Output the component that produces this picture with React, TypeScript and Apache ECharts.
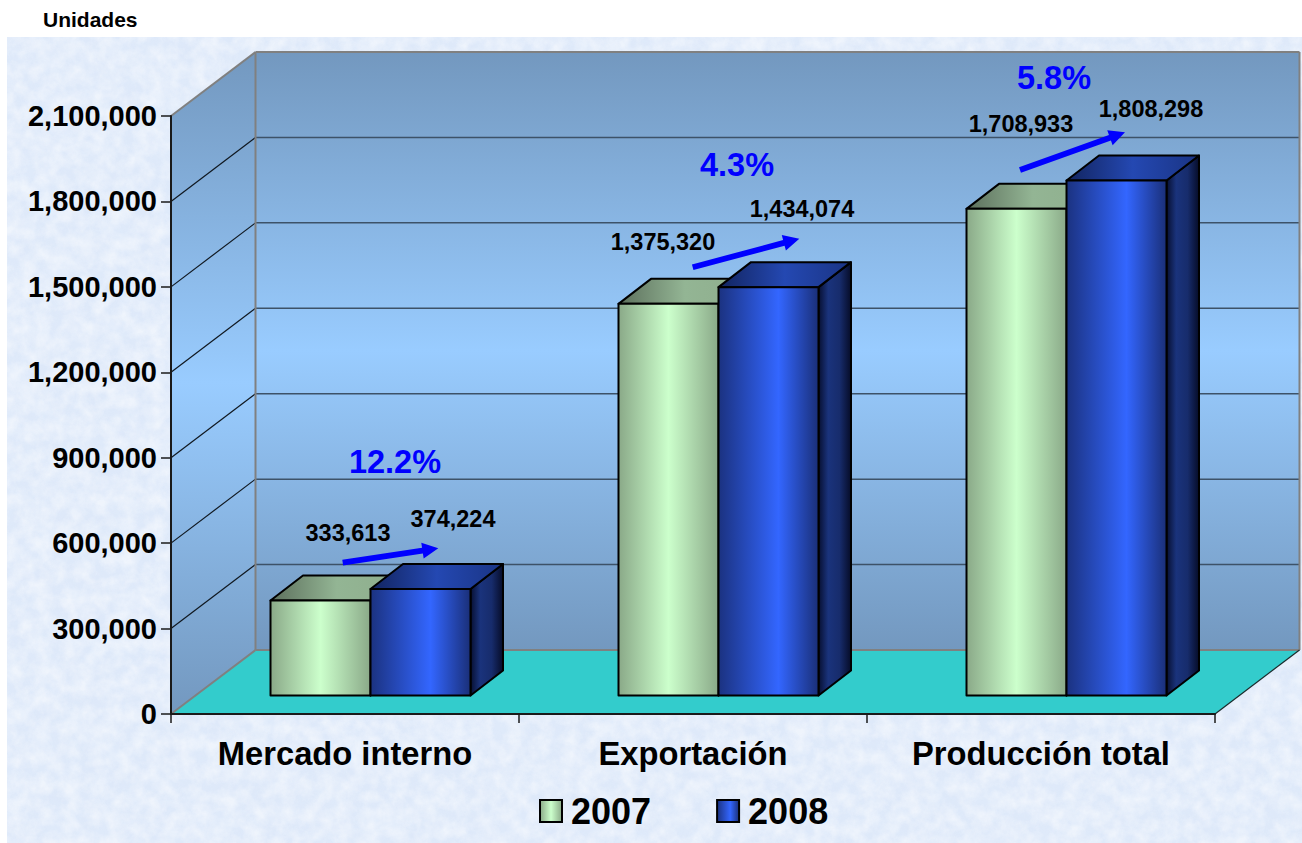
import React, { useEffect, useRef } from "react";
import * as echarts from "echarts";

const categories = ["Mercado interno", "Exportación", "Producción total"];
const seriesNames = ["2007", "2008"];
const values2007 = [333613, 1375320, 1708933];
const values2008 = [374224, 1434074, 1808298];
const growthLabels = ["12.2%", "4.3%", "5.8%"];
const yTicks = [0, 300000, 600000, 900000, 1200000, 1500000, 1800000, 2100000];
const yMax = 2100000;
const yInterval = 300000;

const FONT = '"Liberation Sans", Arial, sans-serif';
const WALL_DX = 84.5;
const WALL_DY = -64;
const BAR_OFF_X = 25.5;
const BAR_OFF_Y = -18.5;
const BAR_W = 100;
const BAR_DX = 32.5;
const BAR_DY = -25;

// label offsets, relative to the middle of a bar's top front edge
const labelOff2007 = [[27.5, -67], [-5.5, -62], [4.5, -85]];
const labelOff2008 = [[32.5, -70], [33.5, -78], [34.5, -72]];
const growthPos = [[395, 462], [737, 165], [1054, 78]];
const arrowPos = [
  [342.7, 562.7, 438.3, 548.3],
  [692.7, 267.3, 799.3, 238.7],
  [1020, 170, 1125, 132.3],
];

const lg = (x2: number, y2: number, stops: [number, string][]) =>
  new echarts.graphic.LinearGradient(0, 0, x2, y2, stops.map(([offset, color]) => ({ offset, color })));

const greenFront = () => lg(1, 0, [[0, "#8aa988"], [0.5, "#ccffcc"], [1, "#8aa988"]]);
const greenTop = () => lg(1, 0, [[0, "#5c6f5c"], [0.5, "#93b594"], [1, "#8fae8d"]]);
const greenSide = () => lg(1, 0, [[0, "#3a4a3a"], [1, "#5c6f5c"]]);
const blueFront = () => lg(1, 0, [[0, "#1b3280"], [0.6, "#3366ff"], [1, "#1a2f78"]]);
const blueTop = () => lg(1, 0, [[0, "#12245f"], [0.5, "#2448b2"], [1, "#1a3484"]]);
const blueSide = () => lg(1, 0, [[0, "#070f30"], [0.3, "#1a337c"], [0.65, "#172c6c"], [1, "#060c28"]]);

const wallFill = () =>
  lg(0, 1, [[0, "#7398bf"], [0.5, "#99ccff"], [1, "#7398bf"]]);

const textureSvg = `<svg xmlns='http://www.w3.org/2000/svg' width='1302' height='843'>
<filter id='a' x='0' y='0' width='100%' height='100%'><feTurbulence type='fractalNoise' baseFrequency='0.04' numOctaves='5' seed='7'/><feColorMatrix values='0 0 0 0 0.72  0 0 0 0 0.80  0 0 0 0 0.94  1.6 0 0 0 -0.42'/></filter>
<filter id='b' x='0' y='0' width='100%' height='100%'><feTurbulence type='fractalNoise' baseFrequency='0.07' numOctaves='4' seed='21'/><feColorMatrix values='0 0 0 0 1  0 0 0 0 1  0 0 0 0 1  0 1.8 0 0 -0.5'/></filter>
<rect width='1302' height='843' fill='#dfeafa'/>
<rect width='1302' height='843' filter='url(#a)' opacity='0.55'/>
<rect width='1302' height='843' filter='url(#b)' opacity='0.5'/>
</svg>`;

function wallsRender(params: any, api: any) {
  if (params.dataIndex !== 0) return { type: "group", children: [] };
  const cs = params.coordSys;
  const x0 = cs.x;
  const x1 = cs.x + cs.width;
  const yTop = cs.y;
  const yBot = cs.y + cs.height;
  const gray = "#808080";
  const children: any[] = [];
  const poly = (points: number[][], fill: any) => ({
    type: "polygon",
    shape: { points },
    style: { fill, stroke: "none" },
  });
  const line = (a: number[], b: number[], stroke: string, lineWidth: number) => ({
    type: "line",
    shape: { x1: a[0], y1: a[1], x2: b[0], y2: b[1] },
    style: { stroke, lineWidth, fill: "none" },
  });
  const bx0 = x0 + WALL_DX;
  const bx1 = x1 + WALL_DX;
  const byTop = yTop + WALL_DY;
  const byBot = yBot + WALL_DY;
  children.push(poly([[bx0, byTop], [bx1, byTop], [bx1, byBot], [bx0, byBot]], wallFill()));
  children.push(poly([[x0, yTop], [bx0, byTop], [bx0, byBot], [x0, yBot]], wallFill()));
  children.push(poly([[x0, yBot], [bx0, byBot], [bx1, byBot], [x1, yBot]], "#33cccc"));
  yTicks.forEach((t) => {
    if (t === 0 || t === yMax) return;
    const y = api.coord([0, t])[1];
    children.push(line([bx0, y + WALL_DY], [bx1, y + WALL_DY], "#3d5268", 1.5));
    children.push(line([x0, y], [bx0, y + WALL_DY], "#101820", 1.2));
  });
  children.push(line([x0, yTop], [bx0, byTop], gray, 2));
  children.push(line([bx0, byTop], [bx1, byTop], gray, 2));
  children.push(line([bx1, byTop], [bx1, byBot], gray, 2));
  children.push(line([bx0, byTop], [bx0, byBot], gray, 2));
  children.push(line([bx0, byBot], [bx1, byBot], gray, 2));
  children.push(line([x0, yBot], [bx0, byBot], gray, 2));
  children.push(line([x1, yBot], [bx1, byBot], "#1a2a2a", 1.2));
  return { type: "group", children };
}

function barRender(seriesIdx: number) {
  return (_params: any, api: any) => {
    const idx = api.value(0);
    const val = api.value(1);
    const base = api.coord([idx, 0]);
    const top = api.coord([idx, val]);
    const left = base[0] + BAR_OFF_X - (seriesIdx === 0 ? BAR_W : 0);
    const right = left + BAR_W;
    const yb = base[1] + BAR_OFF_Y;
    const yt = top[1] + BAR_OFF_Y;
    const stroke = { stroke: "#000", lineWidth: 2, lineJoin: "round" };
    const green = seriesIdx === 0;
    const off = (green ? labelOff2007 : labelOff2008)[idx];
    return {
      type: "group",
      children: [
        {
          type: "polygon",
          shape: { points: [[right, yb], [right + BAR_DX, yb + BAR_DY], [right + BAR_DX, yt + BAR_DY], [right, yt]] },
          style: { fill: green ? greenSide() : blueSide(), ...stroke },
        },
        {
          type: "polygon",
          shape: { points: [[left, yt], [left + BAR_DX, yt + BAR_DY], [right + BAR_DX, yt + BAR_DY], [right, yt]] },
          style: { fill: green ? greenTop() : blueTop(), ...stroke },
        },
        {
          type: "rect",
          shape: { x: left, y: yt, width: BAR_W, height: yb - yt },
          style: { fill: green ? greenFront() : blueFront(), ...stroke },
        },
        {
          type: "text",
          style: {
            text: val.toLocaleString("en-US"),
            x: (left + right) / 2 + off[0],
            y: yt + off[1],
            align: "center",
            verticalAlign: "middle",
            fontFamily: FONT,
            fontWeight: "bold",
            fontSize: 23.5,
            fill: "#000",
          },
        },
      ],
    };
  };
}

function arrowPoints([x1, y1, x2, y2]: number[]) {
  const len = Math.hypot(x2 - x1, y2 - y1);
  const ux = (x2 - x1) / len;
  const uy = (y2 - y1) / len;
  const nx = -uy;
  const ny = ux;
  const hl = 16;
  const hw = 8;
  const sw = 2.9;
  const bx = x2 - ux * hl;
  const by = y2 - uy * hl;
  return [
    [x1 + nx * sw, y1 + ny * sw],
    [bx + nx * sw, by + ny * sw],
    [bx + nx * hw, by + ny * hw],
    [x2, y2],
    [bx - nx * hw, by - ny * hw],
    [bx - nx * sw, by - ny * sw],
    [x1 - nx * sw, y1 - ny * sw],
  ];
}

export default function App() {
  const ref = useRef<HTMLDivElement>(null);
  useEffect(() => {
    document.body.style.margin = "0";
    const chart = echarts.init(ref.current!, null, { renderer: "svg" });
    chart.setOption({
      animation: false,
      backgroundColor: "transparent",
      title: {
        text: "Unidades",
        left: 38,
        top: 4,
        textStyle: { fontFamily: FONT, fontWeight: "bold", fontSize: 21, color: "#000" },
      },
      legend: {
        data: seriesNames.map((name, i) => ({
          name,
          icon: "rect",
          itemStyle: {
            color: i === 0 ? greenFront() : blueFront(),
            borderColor: "#000",
            borderWidth: 2,
          },
        })),
        left: 539,
        top: 793,
        itemWidth: 22,
        itemHeight: 22,
        itemGap: 65,
        padding: 0,
        textStyle: {
          fontFamily: FONT,
          fontWeight: "bold",
          fontSize: 36,
          color: "#000",
          padding: [0, 0, 0, 4],
        },
      },
      grid: { left: 171, top: 116, width: 1044, height: 598, containLabel: false },
      xAxis: {
        type: "category",
        data: categories,
        z: 5,
        axisLine: { lineStyle: { color: "#1a1a1a", width: 2 } },
        axisTick: { show: true, alignWithLabel: false, length: 9, lineStyle: { color: "#1a1a1a", width: 1.5 } },
        axisLabel: {
          margin: 23,
          fontFamily: FONT,
          fontWeight: "bold",
          fontSize: 32.7,
          color: "#000",
        },
        splitLine: { show: false },
      },
      yAxis: {
        type: "value",
        min: 0,
        max: yMax,
        interval: yInterval,
        z: 5,
        axisLine: { show: true, lineStyle: { color: "#1a1a1a", width: 2 } },
        axisTick: { show: true, length: 10, lineStyle: { color: "#1a1a1a", width: 1.5 } },
        axisLabel: {
          margin: 14,
          fontFamily: FONT,
          fontWeight: "bold",
          fontSize: 29,
          color: "#000",
          formatter: (v: number) => v.toLocaleString("en-US"),
        },
        splitLine: { show: false },
      },
      series: [
        {
          type: "custom",
          name: "walls",
          z: 1,
          silent: true,
          renderItem: wallsRender,
          data: [[0, 0]],
          encode: { x: 0, y: 1 },
        },
        {
          type: "custom",
          name: seriesNames[0],
          z: 6,
          renderItem: barRender(0),
          data: values2007.map((v, i) => [i, v]),
          encode: { x: 0, y: 1 },
        },
        {
          type: "custom",
          name: seriesNames[1],
          z: 7,
          renderItem: barRender(1),
          data: values2008.map((v, i) => [i, v]),
          encode: { x: 0, y: 1 },
        },
      ],
      graphic: [
        ...growthLabels.map((t, i) => ({
          type: "text",
          z: 20,
          x: growthPos[i][0],
          y: growthPos[i][1],
          style: {
            text: t,
            align: "center",
            verticalAlign: "middle",
            fontFamily: FONT,
            fontWeight: "bold",
            fontSize: 32.5,
            fill: "#0000ff",
          },
        })),
        ...arrowPos.map((a) => ({
          type: "polygon",
          z: 20,
          shape: { points: arrowPoints(a) },
          style: { fill: "#0000ff" },
        })),
      ],
    });
    return () => chart.dispose();
  }, []);
  return (
    <div style={{ position: "fixed", left: 0, top: 0, width: 1302, height: 843, background: "#fff", overflow: "hidden" }}>
      <div
        style={{
          position: "absolute",
          left: 7,
          top: 37,
          width: 1295,
          height: 806,
          backgroundImage: `url("data:image/svg+xml,${encodeURIComponent(textureSvg)}")`,
        }}
      />
      <div ref={ref} style={{ position: "absolute", left: 0, top: 0, width: 1302, height: 843 }} />
    </div>
  );
}
